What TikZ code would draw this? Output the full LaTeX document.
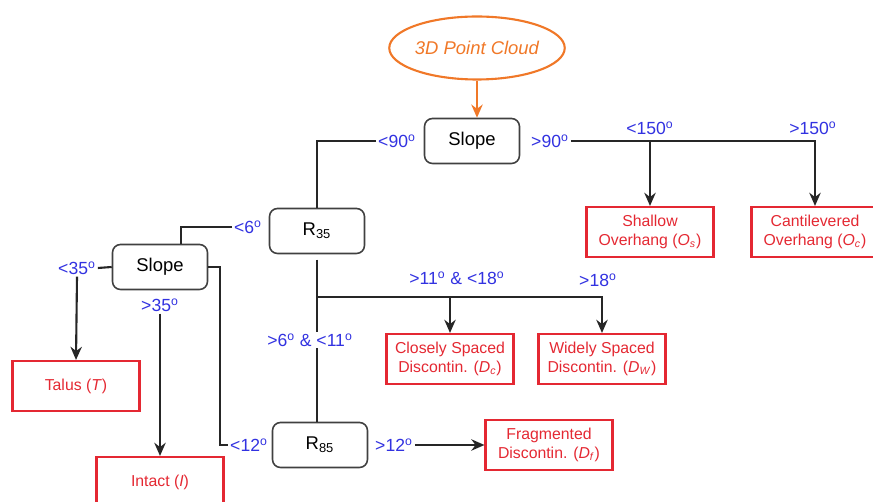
\documentclass[tikz,border=0pt]{standalone}
\usepackage{fontspec}
\setmainfont{Liberation Sans}
\usetikzlibrary{shapes.geometric, arrows.meta}
\definecolor{cloudorange}{RGB}{240,120,40}
\definecolor{condblue}{RGB}{50,50,225}
\definecolor{leafred}{RGB}{228,40,50}
\newcommand{\dg}{\textsuperscript{o}}
\newcommand{\subsym}[2]{\textit{#1}\textsubscript{\textit{#2}}}

\begin{document}
\begin{tikzpicture}[x=0.02cm, y=-0.02cm,
	cloud/.style={ellipse, draw=cloudorange, line width=1.2pt, minimum width=2.86cm, minimum height=1.26cm, inner sep=0pt, text=cloudorange, font=\itshape\fontsize{10.5}{12}\selectfont},
	test/.style={rectangle, rounded corners=0.16cm, draw=black!75, line width=0.9pt, minimum width=1.9cm, minimum height=0.9cm, font=\fontsize{10.5}{12}\selectfont},
	leaf/.style={rectangle, draw=leafred, line width=1.2pt, minimum width=2.54cm, minimum height=1cm, text=leafred, align=center, font=\fontsize{9}{11}\selectfont},
	cond/.style={text=condblue, fill=white, inner sep=1pt, font=\fontsize{10}{12}\selectfont},
	link/.style={draw=black!85, line width=1.2pt},
	arr/.style={link, -{Stealth[length=7.5pt, width=6.5pt]}}]
			\useasboundingbox (0,0) rectangle (873,502);
			
			\node[cloud] (cloud) at (477,48){3D Point Cloud};
			\node[test] (slope1) at (472,141){Slope};
			\node[test] (r35) at (317,231){R\textsubscript{35}};
			\node[test] (slope2) at (160,267){Slope};
			\node[test] (r85) at (320,445){R\textsubscript{85}};
			
			\node[leaf] (shallow) at (650,232){Shallow\\Overhang (\subsym{O}{s})};
			\node[leaf] (canti) at (815,232){Cantilevered\\Overhang (\subsym{O}{c})};
			\node[leaf] (close) at (450,359){Closely Spaced\\Discontin. (\subsym{D}{c})};
			\node[leaf] (wide) at (602,359){Widely Spaced\\Discontin. (\subsym{D}{W})};
			\node[leaf] (talus) at (76,386){Talus (\textit{T})};
			\node[leaf] (intact) at (160,482){Intact (\textit{I})};
			\node[leaf] (frag) at (549,445){Fragmented\\Discontin. (\subsym{D}{f})};
			
			\node[cond] (c90a) at (397,141){<90\dg};
			\node[cond] (c90b) at (550,141){>90\dg};
			\node[cond] (c150a) at (650,128){<150\dg};
			\node[cond] (c150b) at (813,128){>150\dg};
			\node[cond] (c6) at (248,227){<6\dg};
			\node[cond] (c35a) at (77,268){<35\dg};
			\node[cond] (c35b) at (160,305){>35\dg};
			\node[cond] (c1118) at (457,278){>11\dg{} \& <18\dg};
			\node[cond] (c18) at (598,280){>18\dg};
			\node[cond] (c12a) at (249,445){<12\dg};
			\node[cond] (c12b) at (394,445){>12\dg};
			
			\coordinate (j11) at (317,297);
			
			\draw[cloudorange, line width=1.2pt, -{Stealth[length=7.5pt, width=6.5pt]}] (cloud.south) -- (cloud.south |- slope1.north);
			\draw[link] (c90a.west) -| (r35.north);
			\draw[arr] (c90b.east) -| (canti.north);
			\draw[arr] (shallow.north |- c90b.east) -- (shallow.north);
			
			\draw[link] (c6.west) -| ([xshift=0.42cm]slope2.north);
			\draw[link] (slope2.west) -- (c35a.east);
			\draw[arr] (c35a.south) -- (talus.north);
			\draw[arr] (c35b.south) -- (intact.north);
			\draw[link] (slope2.east) -- ++(12,0) |- (c12a.west);
			
			\draw[link, shorten <=3pt] (r35.south) -- (r35.south |- r85.north);
			\node[cond] (c611) at (310,340){>6\dg{} \& <11\dg};
			\draw[arr] (j11) -| (wide.north);
			\draw[arr] (close.north |- j11) -- (close.north);
			\draw[arr] (c12b.east) -- (frag.west);
			\end{tikzpicture}
\end{document}
